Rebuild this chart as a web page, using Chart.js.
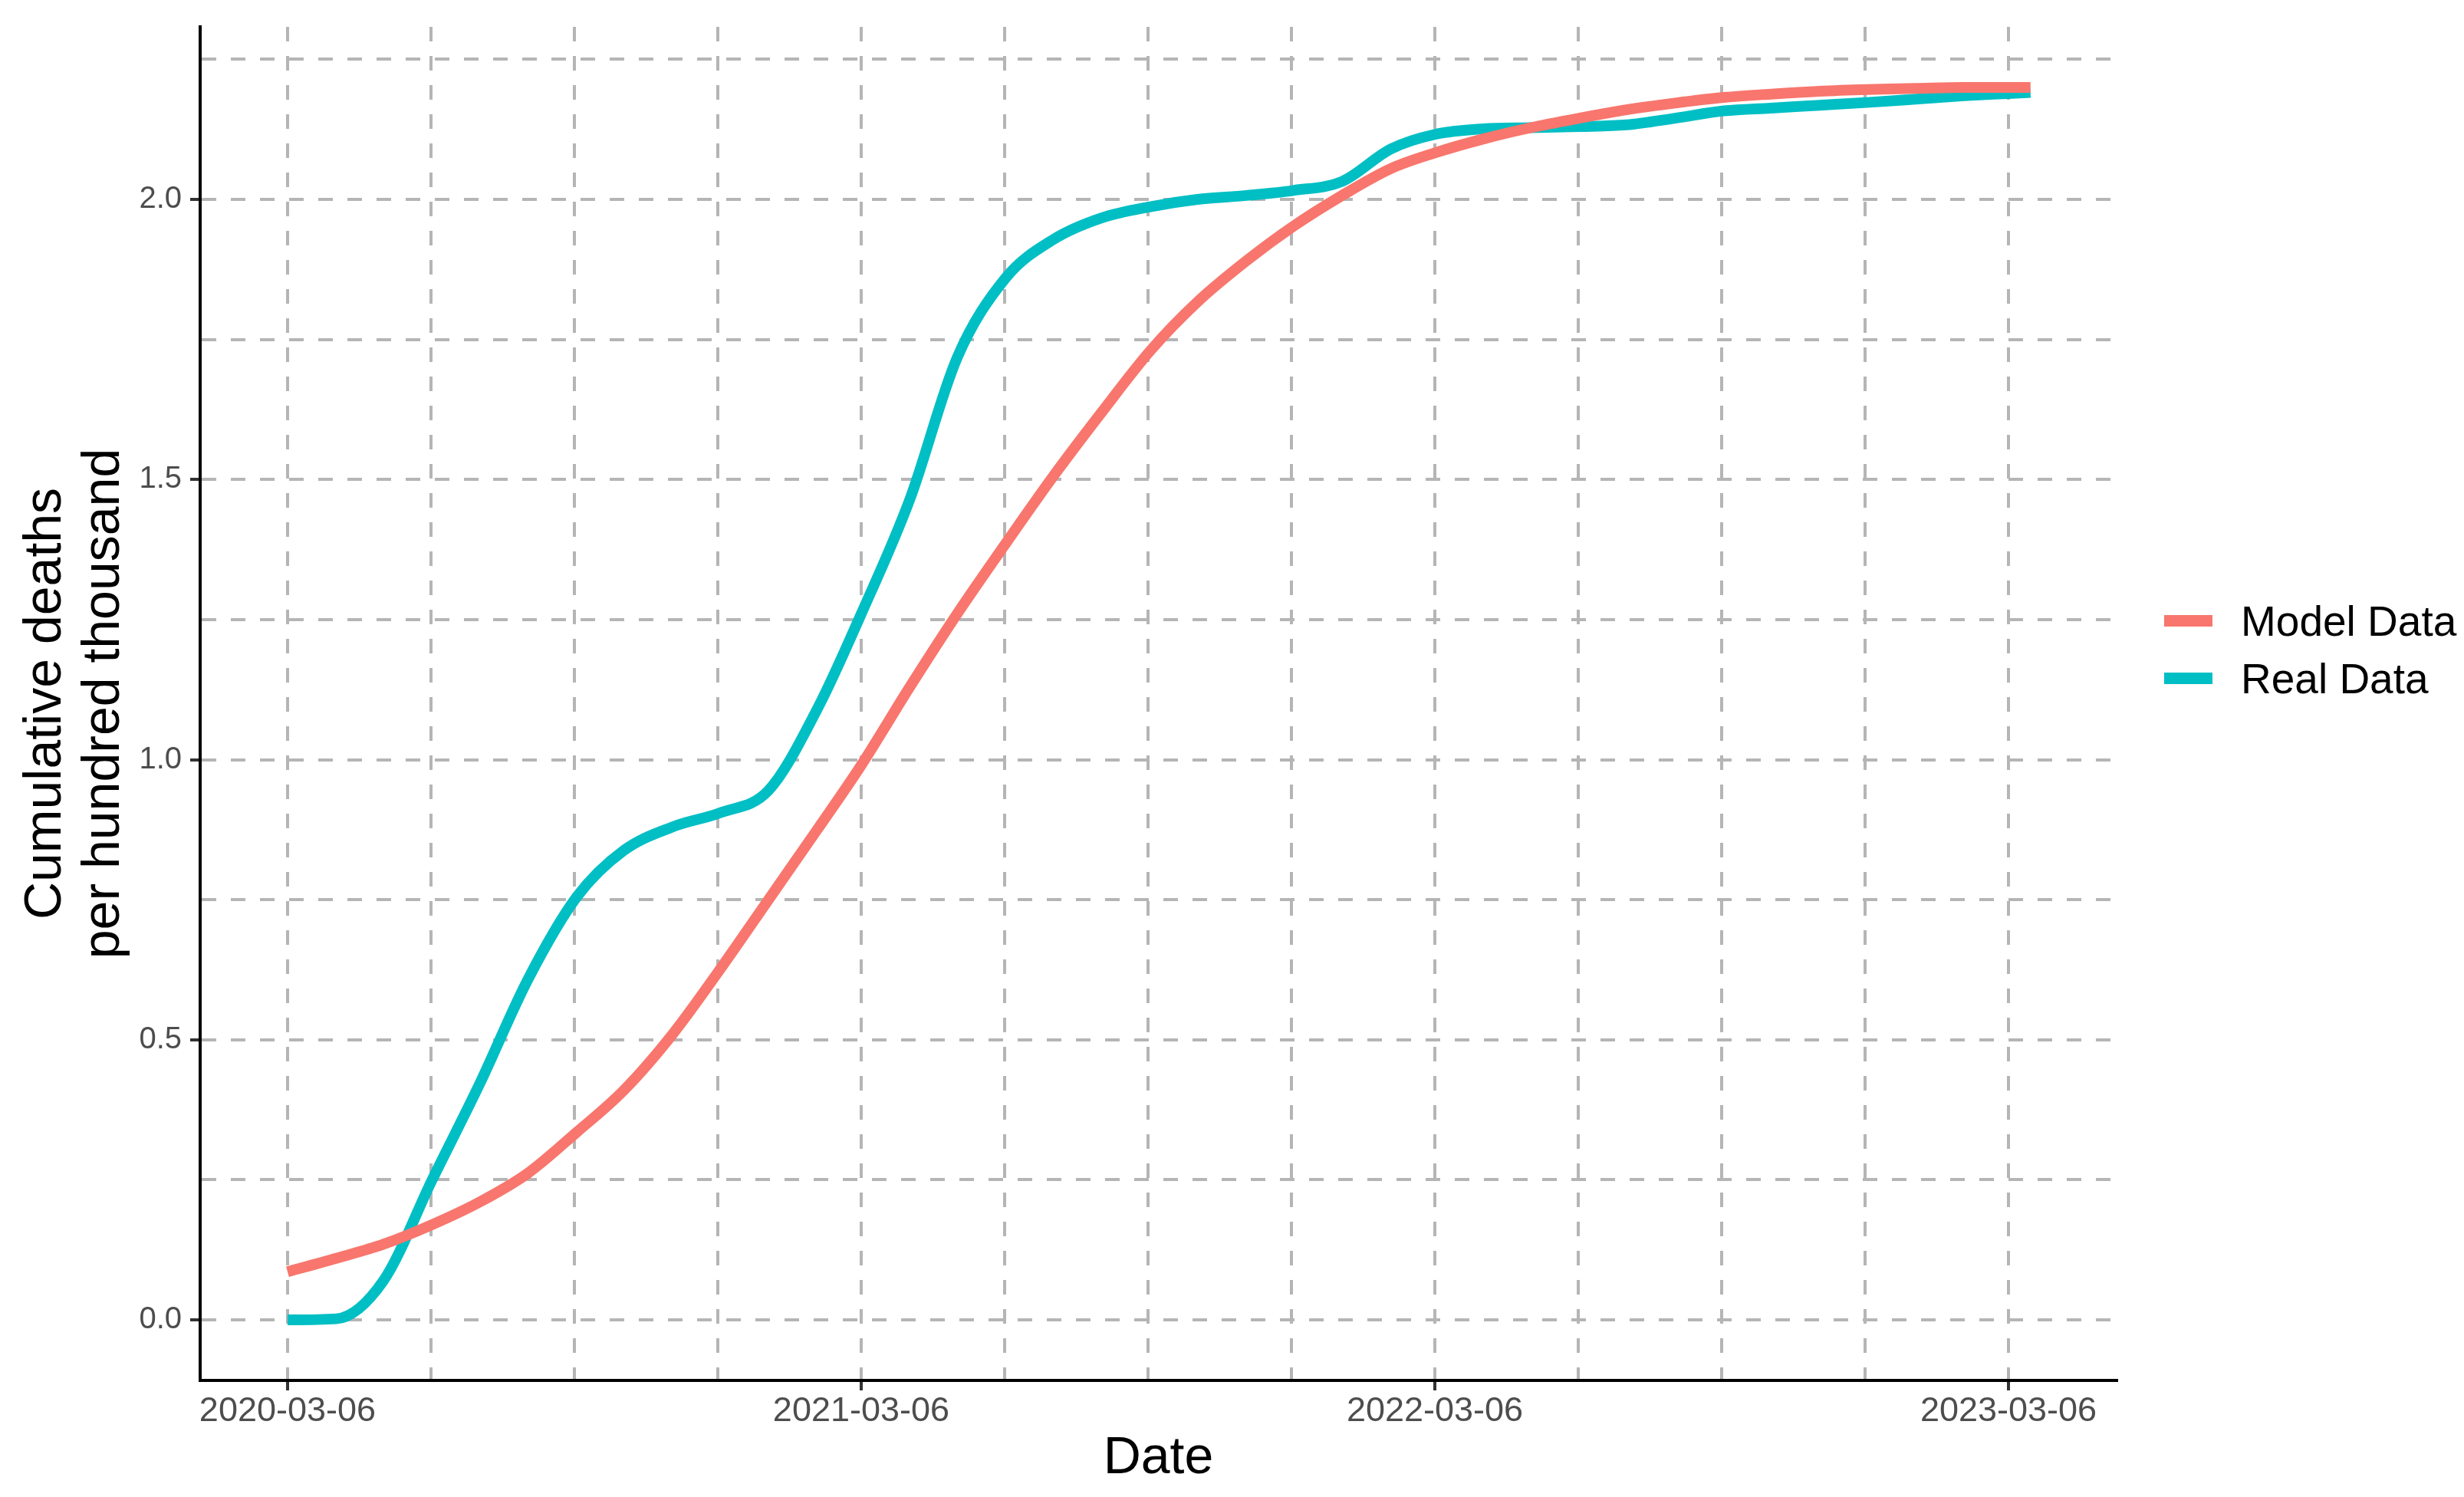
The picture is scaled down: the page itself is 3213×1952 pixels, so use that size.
<!DOCTYPE html>
<html>
<head>
<meta charset="utf-8">
<script src="https://cdn.jsdelivr.net/npm/chart.js@4.4.1/dist/chart.umd.min.js"></script>
<style>
  body { margin: 0; background: #fff; }
  #wrap { position: relative; width: 3213px; height: 1952px; }
  #legend { position: absolute; left: 2822px; top: 772px; font-family: "Liberation Sans", Arial, sans-serif; font-size: 55px; color: #000; }
  #legend .row { display: flex; align-items: center; height: 75px; }
  #legend .key { width: 63px; height: 15px; margin-right: 37px; }
</style>
</head>
<body>
<div id="wrap">
  <canvas id="myChart"></canvas>
  <div id="legend"></div>
</div>
<script>
const dates = [
  "2020-03-06", "2020-04-06", "2020-05-06", "2020-06-06", "2020-07-06", "2020-08-06",
  "2020-09-06", "2020-10-06", "2020-11-06", "2020-12-06", "2021-01-06", "2021-02-06",
  "2021-03-06", "2021-04-06", "2021-05-06", "2021-06-06", "2021-07-06", "2021-08-06",
  "2021-09-06", "2021-10-06", "2021-11-06", "2021-12-06", "2022-01-06", "2022-02-06",
  "2022-03-06", "2022-04-06", "2022-05-06", "2022-06-06", "2022-07-06", "2022-08-06",
  "2022-09-06", "2022-10-06", "2022-11-06", "2022-12-06", "2023-01-06", "2023-02-06",
  "2023-03-06", "2023-03-20"
]

const modelData = [
  0.086, 0.11, 0.135, 0.17, 0.21, 0.262,
  0.335, 0.41, 0.51, 0.625, 0.75, 0.875,
  0.99, 1.13, 1.26, 1.386, 1.505, 1.62,
  1.73, 1.817, 1.89, 1.952, 2.007, 2.055,
  2.083, 2.108, 2.128, 2.145, 2.16, 2.172,
  2.182, 2.188, 2.193, 2.196, 2.198, 2.2,
  2.2, 2.2
]

const realData = [
  0, 0.002, 0.07, 0.25, 0.42, 0.608,
  0.755, 0.838, 0.88, 0.905, 0.945, 1.09,
  1.26, 1.465, 1.717, 1.86, 1.928, 1.967,
  1.987, 2.0, 2.007, 2.016, 2.032, 2.09,
  2.116, 2.126, 2.128, 2.13, 2.133, 2.145,
  2.158, 2.163, 2.168, 2.173, 2.179, 2.185,
  2.189, 2.191
]

const seriesNames = ["Model Data", "Real Data"]
const seriesColors = ["#F8766D", "#00BFC4"]

const xTickLabels = ["2020-03-06", "2021-03-06", "2022-03-06", "2023-03-06"]
const yTickLabels = ["0.0", "0.5", "1.0", "1.5", "2.0"]

// days since the first date, so the x axis stays linear in time
const DAY = 86400000
const start = Date.parse(dates[0])
const toDays = d => Math.round((Date.parse(d) - start) / DAY)

const xMajor = xTickLabels.map(toDays)
const xGrid = []
for (let i = 0; i < xMajor.length - 1; i++) {
  const step = (xMajor[i + 1] - xMajor[i]) / 4
  for (let k = 0; k < 4; k++) xGrid.push(xMajor[i] + k * step)
}
xGrid.push(xMajor[xMajor.length - 1])

const yMajor = yTickLabels.map(Number)
const yGrid = []
for (let i = 0; i < yMajor.length; i++) {
  yGrid.push(yMajor[i])
  yGrid.push(yMajor[i] + 0.25)
}

const isMajorX = v => xMajor.some(m => Math.abs(m - v) < 1e-6)
const isMajorY = v => yMajor.some(m => Math.abs(m - v) < 1e-6)

const gridGrey = "#b5b5b5"
const titleFont = { family: "Liberation Sans", size: 68, lineHeight: 1.12 }

const data = {
  datasets: seriesNames.map((name, i) => ({
    label: name,
    data: dates.map((d, j) => ({ x: toDays(d), y: (i === 0 ? modelData : realData)[j] })),
    borderColor: seriesColors[i],
    backgroundColor: seriesColors[i],
    borderWidth: 14,
    borderCapStyle: "butt",
    pointRadius: 0,
    cubicInterpolationMode: "monotone",
    fill: false
  }))
}

const config = {
  type: "line",
  data: data,
  options: {
    responsive: true,
    maintainAspectRatio: false,
    animation: false,
    layout: { padding: { top: 29, right: 453, left: 0, bottom: 0 } },
    plugins: { legend: { display: false }, tooltip: { enabled: false } },
    scales: {
      x: {
        type: "linear",
        min: -55.6,
        max: 1163.8,
        afterBuildTicks: s => { s.ticks = xGrid.map(v => ({ value: v })) },
        afterFit: s => { s.height = 152 },
        grid: {
          color: gridGrey,
          lineWidth: 4,
          tickLength: 13,
          tickWidth: 4,
          tickBorderDash: [],
          tickColor: c => isMajorX(c.tick.value) ? "#333333" : "rgba(0,0,0,0)"
        },
        border: { display: true, color: "#000", width: 4, dash: [19, 19] },
        ticks: {
          autoSkip: false,
          maxRotation: 0,
          padding: 1,
          color: "#4d4d4d",
          font: { family: "Liberation Sans", size: 45 },
          callback: v => {
            const idx = xMajor.findIndex(m => Math.abs(m - v) < 1e-6)
            return idx >= 0 ? xTickLabels[idx] : ""
          }
        },
        title: {
          display: true,
          text: "Date",
          color: "#000",
          font: titleFont,
          padding: { top: 0, bottom: 12 }
        }
      },
      y: {
        type: "linear",
        min: -0.108,
        max: 2.308,
        afterBuildTicks: s => { s.ticks = yGrid.map(v => ({ value: v })) },
        afterFit: s => { s.width = 261 },
        grid: {
          color: gridGrey,
          lineWidth: 4,
          tickLength: 13,
          tickWidth: 4,
          tickBorderDash: [],
          tickColor: c => isMajorY(c.tick.value) ? "#333333" : "rgba(0,0,0,0)"
        },
        border: { display: true, color: "#000", width: 4, dash: [19, 19] },
        ticks: {
          autoSkip: false,
          padding: 11,
          color: "#4d4d4d",
          font: { family: "Liberation Sans", size: 40 },
          callback: v => {
            const idx = yMajor.findIndex(m => Math.abs(m - v) < 1e-6)
            return idx >= 0 ? yTickLabels[idx] : ""
          }
        },
        title: {
          display: true,
          text: ["Cumulative deaths", "per hundred thousand"],
          color: "#000",
          font: titleFont,
          padding: { top: 22, bottom: 0 }
        }
      }
    }
  }
}

const myChart = new Chart(document.getElementById("myChart"), config)

// legend drawn as html, placed where ggplot put it
const legend = document.getElementById("legend")
seriesNames.forEach((name, i) => {
  const row = document.createElement("div")
  row.className = "row"
  const key = document.createElement("span")
  key.className = "key"
  key.style.background = seriesColors[i]
  const txt = document.createElement("span")
  txt.textContent = name
  row.appendChild(key)
  row.appendChild(txt)
  legend.appendChild(row)
})
</script>
</body>
</html>
